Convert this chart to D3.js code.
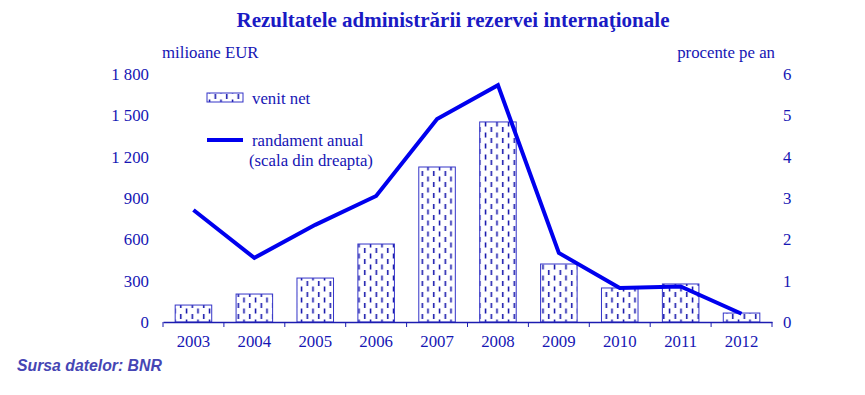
<!DOCTYPE html>
<html><head><meta charset="utf-8">
<script src="https://cdn.jsdelivr.net/npm/d3@7"></script>
<style>body{margin:0;background:#fff}svg{display:block}</style>
</head><body>
<svg id="c" width="865" height="395"></svg>
<script>
const years = ["2003","2004","2005","2006","2007","2008","2009","2010","2011","2012"];
const venitNet = [123, 203, 319, 566, 1125, 1452, 421, 247, 276, 65];
const randament = [2.71, 1.55, 2.35, 3.05, 4.91, 5.73, 1.67, 0.82, 0.86, 0.2];
const leftTicks = [0, 300, 600, 900, 1200, 1500, 1800];
const rightTicks = [0, 1, 2, 3, 4, 5, 6];

const svg = d3.select("#c");
const txt = "#1616b4";
const lineCol = "#0000ee";
const serif = "'Liberation Serif','Times New Roman',serif";
const fs = 16.8;

const x = d3.scaleBand().domain(years).range([163, 772]).paddingInner(0.4).paddingOuter(0.2);
const xb = d3.scaleBand().domain(years).range([163, 772]);
const yL = d3.scaleLinear().domain([0, 1800]).range([322, 74]);
const yR = d3.scaleLinear().domain([0, 6]).range([322, 74]);

// pattern
const defs = svg.append("defs");
const pat = defs.append("pattern").attr("id","dash").attr("patternUnits","userSpaceOnUse")
  .attr("width", 11.5).attr("height", 11).attr("x", 0).attr("y", 0);
pat.append("rect").attr("width",11.5).attr("height",11).attr("fill","#fff");
pat.append("line").attr("x1",2.5).attr("x2",2.5).attr("y1",0.5).attr("y2",5.5).attr("stroke","#0c0ca8").attr("stroke-width",1.5);
pat.append("line").attr("x1",8.3).attr("x2",8.3).attr("y1",6).attr("y2",11).attr("stroke","#0c0ca8").attr("stroke-width",1.5);

// title
svg.append("text").attr("x", 453).attr("y", 27).attr("text-anchor","middle")
  .attr("font-family", serif).attr("font-weight","bold").attr("font-size", 21).attr("fill", "#1a1ac4")
  .text("Rezultatele administrării rezervei internaţionale");

svg.append("text").attr("x", 162).attr("y", 58).attr("font-family", serif).attr("font-size", fs).attr("fill", txt).text("milioane EUR");
svg.append("text").attr("x", 775).attr("y", 58).attr("text-anchor","end").attr("font-family", serif).attr("font-size", fs).attr("fill", txt).text("procente pe an");

// left axis labels
const fmt = v => d3.format(",")(v).replace(/,/g, " ");
const gL = svg.append("g").attr("transform","translate(149,0)")
  .call(d3.axisLeft(yL).tickValues(leftTicks).tickFormat(fmt).tickSize(0).tickPadding(0));
gL.select(".domain").remove();
gL.selectAll("text").attr("font-family", serif).attr("font-size", fs).attr("fill", txt);

const gR = svg.append("g").attr("transform","translate(783,0)")
  .call(d3.axisRight(yR).tickValues(rightTicks).tickFormat(d3.format("d")).tickSize(0).tickPadding(0));
gR.select(".domain").remove();
gR.selectAll("text").attr("font-family", serif).attr("font-size", fs).attr("fill", txt);

// bars
svg.append("g").selectAll("rect").data(years).join("rect")
  .attr("x", d => x(d)).attr("width", x.bandwidth())
  .attr("y", (d,i) => yL(venitNet[i])).attr("height", (d,i) => yL(0) - yL(venitNet[i]))
  .attr("fill","url(#dash)").attr("stroke","#3535c8").attr("stroke-width",1);

// x axis
const gX = svg.append("g").attr("transform","translate(0,322)")
  .call(d3.axisBottom(xb).tickSize(0).tickPadding(13));
gX.select(".domain").attr("stroke","#1c1cb0").attr("stroke-width",1.3);
gX.selectAll("text").attr("font-family", serif).attr("font-size", fs).attr("fill", txt);
const bounds = years.map(d => xb(d)).concat([xb(years[years.length-1]) + xb.bandwidth()]);
gX.selectAll(".bt").data(bounds).join("line").attr("class","bt")
  .attr("x1", d => d).attr("x2", d => d).attr("y1", 0).attr("y2", 5)
  .attr("stroke","#1c1cb0").attr("stroke-width",1);

// line
const line = d3.line().x((d,i) => xb(years[i]) + xb.bandwidth()/2).y(d => yR(d));
svg.append("path").datum(randament).attr("d", line).attr("fill","none")
  .attr("stroke", lineCol).attr("stroke-width", 4).attr("stroke-linejoin","miter");

// legend
svg.append("rect").attr("x",207).attr("y",93).attr("width",36).attr("height",9)
  .attr("fill","url(#dash)").attr("stroke","#3535c8").attr("stroke-width",1);
svg.append("text").attr("x",252).attr("y",104).attr("font-family", serif).attr("font-size",fs).attr("fill",txt).text("venit net");
svg.append("line").attr("x1",207).attr("x2",243).attr("y1",140).attr("y2",140).attr("stroke",lineCol).attr("stroke-width",4);
svg.append("text").attr("x",252).attr("y",146).attr("font-family", serif).attr("font-size",fs).attr("fill",txt).text("randament anual");
svg.append("text").attr("x",249).attr("y",166).attr("font-family", serif).attr("font-size",fs).attr("fill",txt).text("(scala din dreapta)");

// source
svg.append("text").attr("x",17).attr("y",371).attr("font-family","'Liberation Sans',Arial,sans-serif")
  .attr("font-size",15.8).attr("font-weight","bold").attr("font-style","italic").attr("fill","#4646b4").text("Sursa datelor: BNR");
</script>
</body></html>
